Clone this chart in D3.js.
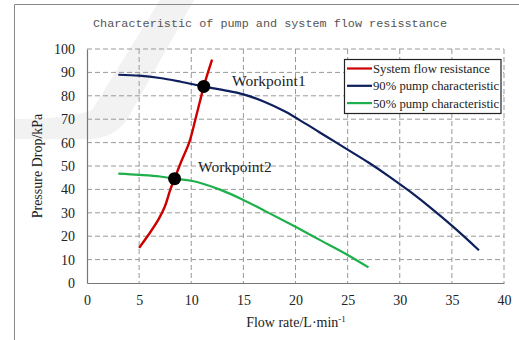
<!DOCTYPE html>
<html>
<head>
<meta charset="utf-8">
<script src="https://cdn.jsdelivr.net/npm/d3@7"></script>
<style>
  body { margin: 0; background: #fff; }
  svg { display: block; }
  text { font-family: "Liberation Serif", "Times New Roman", serif; fill: #222; }
</style>
</head>
<body>
<div id="viz"></div>
<script>
"use strict";
(function(){
    // values
    const systemFlow = [5, 5.9, 6.9, 7.45, 8.0, 8.4, 9.05, 9.8, 10.4, 10.8, 11.2, 12.0];
    const systemDrop = [15, 20.6, 27.5, 32.5, 40, 44.6, 52, 60, 70, 77, 84, 95.5];

    const pump90Flow = [3, 5, 7, 9, 11.2, 13, 15, 17, 19, 21, 23, 25, 27, 29, 31, 33, 35, 37.6];
    const pump90Drop = [89, 88.6, 87.6, 86, 84, 82.5, 80.6, 77.5, 73.3, 68, 62.5, 57, 51.5, 45.5, 39, 32, 24.5, 14];

    const pump50Flow = [3, 5, 7, 8.4, 10, 12.7, 15, 17.2, 20, 22.5, 25, 27];
    const pump50Drop = [46.7, 46.2, 45.5, 44.6, 43.7, 40, 35.5, 30.5, 24, 18, 12, 6.7];

    const workFlow = [11.2, 8.4];
    const workDrop = [84, 44.6];
    const workNames = ["Workpoint1", "Workpoint2"];

    const seriesNames = ["System flow resistance", "90% pump characteristic", "50% pump characteristic"];
    const seriesColors = ["#cc0000", "#0d1f5c", "#1db04b"];

    const xTicks = [0, 5, 10, 15, 20, 25, 30, 35, 40];
    const yTicks = [0, 10, 20, 30, 40, 50, 60, 70, 80, 90, 100];

    const measurements = { width: 519, height: 340, left: 87, right: 504, top: 49, bottom: 283 };
    const serif = '"Liberation Serif", "Times New Roman", serif';

    const svg = d3.select('#viz').append('svg')
        .attr('width', measurements.width)
        .attr('height', measurements.height);

    // faint watermark stroke behind the chart
    svg.append('path')
        .attr('d', 'M160,0 L194,0 L128,118 Q114,140 85,139 L15,139 L15,119 Q70,119 92,110 Z')
        .attr('fill', '#f2f2f2');

    // frame of the original figure
    svg.append('path')
        .attr('d', 'M14.5,340 L14.5,4.5 L519,4.5')
        .attr('fill', 'none')
        .attr('stroke', '#888')
        .attr('stroke-width', 1);

    const scaleX = d3.scaleLinear().domain([0, 40]).range([measurements.left, measurements.right]);
    const scaleY = d3.scaleLinear().domain([0, 100]).range([measurements.bottom, measurements.top]);

    // dashed grid
    svg.append('g')
        .selectAll('line')
        .data(xTicks.slice(1))
        .enter().append('line')
        .attr('x1', d => scaleX(d)).attr('x2', d => scaleX(d))
        .attr('y1', measurements.top).attr('y2', measurements.bottom)
        .attr('stroke', '#999').attr('stroke-dasharray', '5,3');
    svg.append('g')
        .selectAll('line')
        .data(yTicks.slice(1))
        .enter().append('line')
        .attr('x1', measurements.left).attr('x2', measurements.right)
        .attr('y1', d => scaleY(d)).attr('y2', d => scaleY(d))
        .attr('stroke', '#999').attr('stroke-dasharray', '5,3');

    // axes
    const xAxis = svg.append('g')
        .attr('transform', `translate(0,${measurements.bottom})`)
        .call(d3.axisBottom(scaleX).tickValues(xTicks).tickSize(0).tickPadding(12));
    const yAxis = svg.append('g')
        .attr('transform', `translate(${measurements.left},0)`)
        .call(d3.axisLeft(scaleY).tickValues(yTicks).tickSize(0).tickPadding(12));
    [xAxis, yAxis].forEach(a => {
        a.attr('font-family', null).attr('font-size', null);
        a.select('.domain').attr('stroke', '#777').attr('stroke-width', 1.2);
        a.selectAll('text')
            .style('font-family', serif)
            .style('font-size', '14px')
            .attr('fill', '#222');
    });

    // curves
    const line = d3.line()
        .x(d => scaleX(d[0]))
        .y(d => scaleY(d[1]))
        .curve(d3.curveMonotoneX);
    const lineSys = d3.line()
        .x(d => scaleX(d[0]))
        .y(d => scaleY(d[1]))
        .curve(d3.curveMonotoneY);
    const series = [
        d3.zip(systemFlow, systemDrop),
        d3.zip(pump90Flow, pump90Drop),
        d3.zip(pump50Flow, pump50Drop)
    ];
    series.forEach((s, i) => {
        svg.append('path')
            .datum(s)
            .attr('d', i === 0 ? lineSys : line)
            .attr('fill', 'none')
            .attr('stroke', seriesColors[i])
            .attr('stroke-width', i === 0 ? 2.4 : 2.2);
    });

    // work points
    svg.selectAll('.wp')
        .data(d3.zip(workFlow, workDrop))
        .enter().append('circle')
        .attr('cx', d => scaleX(d[0]))
        .attr('cy', d => scaleY(d[1]))
        .attr('r', 6.5)
        .attr('fill', '#000');
    svg.append('text').attr('x', 232).attr('y', 86).style('font-size', '15.5px').text(workNames[0]);
    svg.append('text').attr('x', 198).attr('y', 172).style('font-size', '15.5px').text(workNames[1]);

    // legend
    const legend = svg.append('g');
    legend.append('rect')
        .attr('x', 344.5).attr('y', 59.5)
        .attr('width', 156.5).attr('height', 54)
        .attr('fill', '#fff').attr('stroke', '#222').attr('stroke-width', 1.2);
    seriesNames.forEach((name, i) => {
        const y = 68.5 + i * 17.3;
        legend.append('line')
            .attr('x1', 347).attr('x2', 372)
            .attr('y1', y).attr('y2', y)
            .attr('stroke', seriesColors[i]).attr('stroke-width', 2.2);
        legend.append('text')
            .attr('x', 373).attr('y', y + 4.5)
            .style('font-family', serif)
            .style('font-size', '12.7px')
            .text(name);
    });

    // title and axis labels
    svg.append('text')
        .attr('x', 270).attr('y', 27)
        .attr('text-anchor', 'middle')
        .style('font-family', '"Liberation Mono", monospace')
        .style('font-size', '11.8px')
        .style('fill', '#555')
        .text('Characteristic of pump and system flow resisstance');

    const xLabel = svg.append('text')
        .attr('x', 296).attr('y', 327)
        .attr('text-anchor', 'middle')
        .style('font-size', '14px');
    xLabel.append('tspan').text('Flow rate/L·min');
    xLabel.append('tspan').attr('dy', -5).style('font-size', '9px').text('-1');

    svg.append('text')
        .attr('transform', 'translate(42,166) rotate(-90)')
        .attr('text-anchor', 'middle')
        .style('font-size', '14px')
        .text('Pressure Drop/kPa');
})()
</script>
</body>
</html>
